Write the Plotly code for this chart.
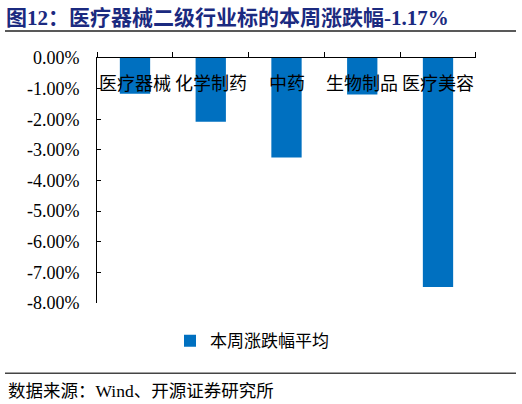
import plotly.graph_objects as go

categories = ["医疗器械", "化学制药", "中药", "生物制品", "医疗美容"]
values = [-1.17, -2.08, -3.25, -1.19, -7.48]
series_name = "本周涨跌幅平均"
y_ticks = [0, -1, -2, -3, -4, -5, -6, -7, -8]
title_text = "图12：医疗器械二级行业标的本周涨跌幅-1.17%"
source_text = "数据来源：Wind、开源证券研究所"

W, H = 522, 404
L, R, T, B = 97, 476, 57.5, 302.7
FONT = "Liberation Serif, Noto Sans CJK SC, serif"


def px_x(p):
    return (p - L) / (R - L)


def px_y(p):
    return (B - p) / (B - T)


fig = go.Figure()
fig.add_trace(go.Bar(
    x=categories, y=values, name=series_name,
    marker=dict(color="#0070C0", line=dict(width=0)),
    showlegend=True,
))

annotations = [
    dict(x=c, y=0, xref="x", yref="y", text=c, showarrow=False,
         yanchor="top", yshift=-14, font=dict(family=FONT, size=18, color="#000"))
    for c in categories
]
annotations.append(dict(x=px_x(6), y=px_y(391), xref="paper", yref="paper",
                        text=source_text, showarrow=False, xanchor="left", yanchor="middle",
                        font=dict(family=FONT, size=17.5, color="#000")))
annotations.append(dict(x=px_x(4), y=px_y(17), xref="paper", yref="paper",
                        text="<b>" + title_text + "</b>", showarrow=False,
                        xanchor="left", yanchor="middle",
                        font=dict(family=FONT, size=21, color="#1B2A80")))

shapes = [
    dict(type="line", xref="paper", yref="paper", x0=px_x(5), x1=px_x(516),
         y0=px_y(30.5), y1=px_y(30.5), line=dict(color="#222", width=1.3)),
    dict(type="line", xref="paper", yref="paper", x0=px_x(5), x1=px_x(516),
         y0=px_y(373), y1=px_y(373), line=dict(color="#444", width=1.3)),
]

fig.update_layout(
    width=W, height=H,
    margin=dict(l=L, r=W - R, t=T, b=H - B, pad=0),
    paper_bgcolor="white", plot_bgcolor="white",
    bargap=0.6,
    font=dict(family=FONT, color="#000"),
    annotations=annotations,
    shapes=shapes,
    legend=dict(orientation="h", x=px_x(252), y=px_y(341), xanchor="center", yanchor="middle",
                font=dict(family=FONT, size=17, color="#000"), bgcolor="rgba(0,0,0,0)"),
    xaxis=dict(type="category", side="top", showline=True, linecolor="#000", linewidth=1,
               ticks="outside", ticklen=5, tickcolor="#000", tickson="boundaries",
               showticklabels=False, showgrid=False, zeroline=False, fixedrange=True),
    yaxis=dict(range=[-8, 0], tickvals=y_ticks, ticktext=[f"{v:.2f}%" for v in y_ticks],
               showline=True, linecolor="#000", linewidth=1, ticks="inside", ticklen=4,
               tickcolor="#000", showgrid=False, zeroline=False, fixedrange=True,
               tickfont=dict(family=FONT, size=18, color="#000"), ticklabelstandoff=13),
)

fig.write_html("out.html", config={"displayModeBar": False},
               post_script="document.body.style.margin='0';document.body.style.padding='0';")
